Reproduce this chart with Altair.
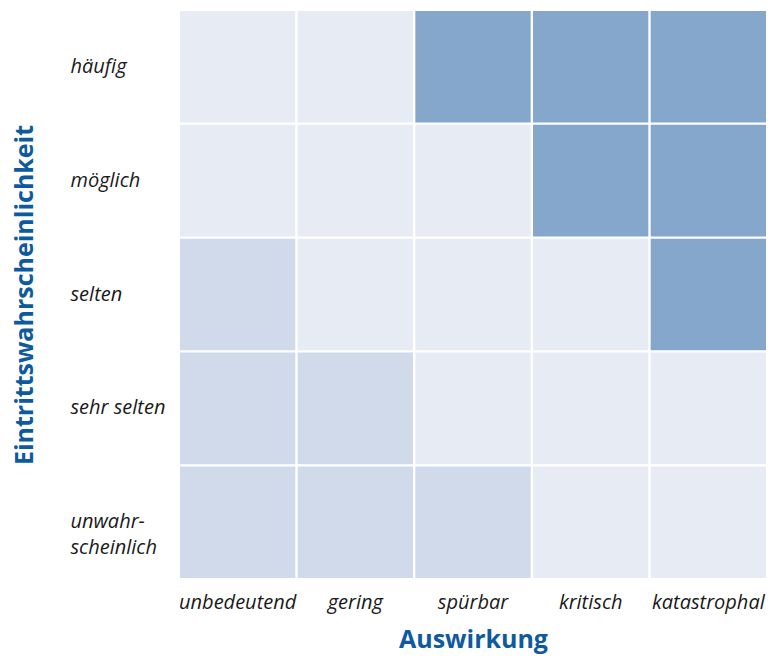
import altair as alt
import pandas as pd

impact = ["unbedeutend", "gering", "spürbar", "kritisch", "katastrophal"]
likelihood = ["häufig", "möglich", "selten", "sehr selten", "unwahrscheinlich"]
# risk level per row (top to bottom), per column (left to right): 1 = low, 2 = medium, 3 = high
levels = [
    [2, 2, 3, 3, 3],
    [2, 2, 2, 3, 3],
    [1, 2, 2, 2, 3],
    [1, 1, 2, 2, 2],
    [1, 1, 1, 2, 2],
]
level_names = ["niedrig", "mittel", "hoch"]
level_colors = ["#d1daea", "#e7ebf4", "#85a7cc"]

rows = []
for i, lk in enumerate(likelihood):
    for j, im in enumerate(impact):
        rows.append({"Auswirkung": im, "Eintritt": lk, "Risiko": level_names[levels[i][j] - 1]})
df = pd.DataFrame(rows)

font = "Open Sans"
title_color = "#0e5a9e"

chart = alt.Chart(df).mark_rect().encode(
    x=alt.X("Auswirkung:N", sort=impact,
            scale=alt.Scale(paddingInner=0.02, paddingOuter=0),
            axis=alt.Axis(title="Auswirkung", orient="bottom", labelAngle=0, ticks=False, domain=False,
                          labelPadding=14, labelFontSize=20, labelFont=font, labelFontStyle="italic",
                          labelColor="#1a1a1a", titleFontSize=25, titleFont=font, titleFontWeight="bold",
                          titleColor=title_color, titlePadding=15)),
    y=alt.Y("Eintritt:N", sort=likelihood,
            scale=alt.Scale(paddingInner=0.02, paddingOuter=0),
            axis=alt.Axis(title="Eintrittswahrscheinlichkeit", ticks=False, domain=False,
                          labelAlign="left", labelPadding=110, labelFontSize=20, labelFont=font,
                          labelFontStyle="italic", labelColor="#1a1a1a", labelLineHeight=26,
                          labelExpr="datum.label == 'unwahrscheinlich' ? ['unwahr-', 'scheinlich'] : datum.label",
                          titleFontSize=25, titleFont=font, titleFontWeight="bold",
                          titleColor=title_color, titlePadding=33)),
    color=alt.Color("Risiko:N", scale=alt.Scale(domain=level_names, range=level_colors), legend=None),
).properties(
    width=586, height=567, padding={"left": 4, "top": 3, "right": 0, "bottom": 6}
).configure_view(stroke=None)

chart.save("out.html", embed_options={"renderer": "svg", "actions": False})
